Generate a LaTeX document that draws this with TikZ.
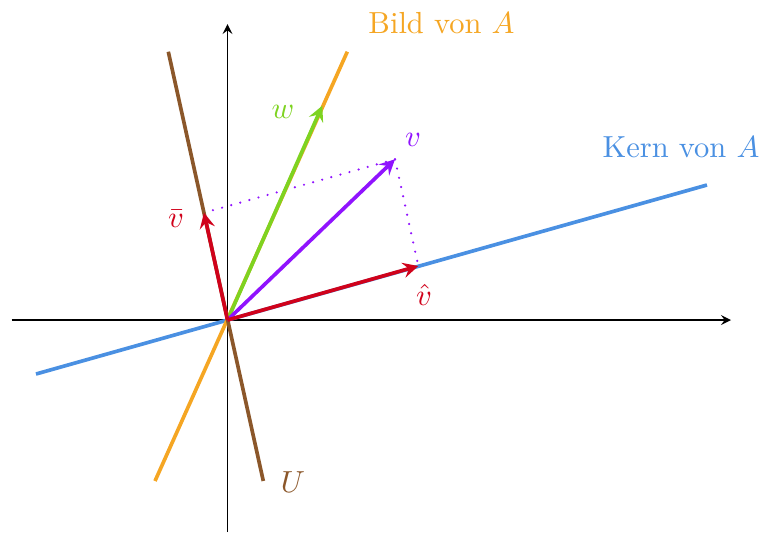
\documentclass[tikz,border=0pt]{standalone}
\usetikzlibrary{arrows.meta}
\definecolor{cOrange}{HTML}{F5A623}
\definecolor{cBlue}{HTML}{4A90E2}
\definecolor{cBrown}{HTML}{8B572A}
\definecolor{cGreen}{HTML}{7ED321}
\definecolor{cPurple}{HTML}{9013FE}
\definecolor{cRed}{HTML}{D0021B}
\begin{document}
\begin{tikzpicture}[x=0.328pt,y=-0.328pt,
  axis/.style={line width=0.45pt,-stealth},
  subspace/.style={line width=1.2pt},
  vec/.style={line width=1.2pt,-stealth},
  dots/.style={cPurple,line width=0.8pt,line cap=round,dash pattern=on 0pt off 3.1pt},
  lbl/.style={inner sep=0pt}]
\useasboundingbox (0,0) rectangle (764,532);
\coordinate (O) at (227.5,320);
\coordinate (xl) at (11.7,320);
\coordinate (xr) at (731,320);
\coordinate (yb) at (227.5,532);
\coordinate (yt) at (227.5,24);
\coordinate (k1) at (36,374);
\coordinate (k2) at (707,185);
\coordinate (b1) at (155,481);
\coordinate (b2) at (347.3,51.7);
\coordinate (u1) at (168.3,51.7);
\coordinate (u2) at (263.3,481);
\coordinate (w) at (322.3,105.7);
\coordinate (v) at (395,159.3);
\coordinate (vh) at (418.3,266);
\coordinate (vb) at (204,212.7);
% axes
\draw[axis] (xl) -- (xr);
\draw[axis] (yb) -- (yt);
% subspaces
\draw[subspace,cBlue] (k1) -- (k2);
\draw[subspace,cOrange] (b1) -- (b2);
\draw[subspace,cBrown] (u1) -- (u2);
% dotted projections
\draw[dots] (v) -- (vh);
\draw[dots] (v) -- (vb);
% vectors
\draw[vec,cGreen] (O) -- (w);
\draw[vec,cPurple] (O) -- (v);
\draw[vec,cRed] (O) -- (vh);
\draw[vec,cRed] (O) -- (vb);
% labels
\node[lbl,text=cOrange] (lBild) at (441.5,23) {Bild von $A$};
\node[lbl,text=cBlue] (lKern) at (681,147.5) {Kern von $A$};
\node[lbl,text=cGreen] (lw) at (283,112) {$w$};
\node[lbl,text=cPurple] (lv) at (413,140) {$v$};
\node[lbl,text=cRed] (lvb) at (176,219) {$\bar v$};
\node[lbl,text=cRed] (lvh) at (424,295) {$\hat v$};
\node[lbl,text=cBrown] (lU) at (293,482) {$U$};
\end{tikzpicture}
\end{document}
